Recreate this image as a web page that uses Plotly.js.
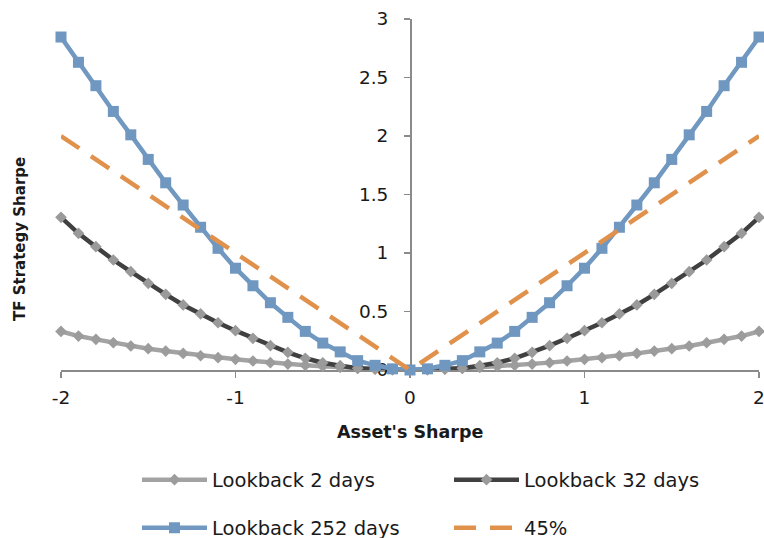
<!DOCTYPE html>
<html>
<head>
<meta charset="utf-8">
<script src="https://cdn.plot.ly/plotly-3.0.1.min.js"></script>
<style>html,body{margin:0;padding:0;background:#fff;}#chart{width:764px;height:538px;}</style>
</head>
<body>
<div id="chart"></div>
<script>
const assetSharpe = [-2.0,-1.9,-1.8,-1.7,-1.6,-1.5,-1.4,-1.3,-1.2,-1.1,-1.0,-0.9,-0.8,-0.7,-0.6,-0.5,-0.4,-0.3,-0.2,-0.1,0.0,0.1,0.2,0.3,0.4,0.5,0.6,0.7,0.8,0.9,1.0,1.1,1.2,1.3,1.4,1.5,1.6,1.7,1.8,1.9,2.0];
const lookback2 = [0.33,0.29,0.262,0.233,0.205,0.182,0.162,0.142,0.122,0.105,0.091,0.077,0.063,0.051,0.040,0.031,0.023,0.014,0.009,0.003,0,0.003,0.009,0.014,0.023,0.031,0.040,0.051,0.063,0.077,0.091,0.105,0.122,0.142,0.162,0.182,0.205,0.233,0.262,0.29,0.33];
const lookback32 = [1.305,1.168,1.054,0.94,0.84,0.741,0.647,0.556,0.479,0.404,0.336,0.271,0.208,0.151,0.10,0.062,0.037,0.015,0.007,0.002,0,0.002,0.007,0.015,0.037,0.062,0.10,0.151,0.208,0.271,0.336,0.404,0.479,0.556,0.647,0.741,0.84,0.94,1.054,1.168,1.305];
const lookback252 = [2.846,2.63,2.43,2.21,2.01,1.80,1.60,1.41,1.22,1.04,0.87,0.72,0.575,0.45,0.33,0.23,0.155,0.08,0.04,0.01,0,0.01,0.04,0.08,0.155,0.23,0.33,0.45,0.575,0.72,0.87,1.04,1.22,1.41,1.60,1.80,2.01,2.21,2.43,2.63,2.846];
const diagX = [-2, 0, 2];
const diagY = [2, 0, 2];
const seriesNames = ['Lookback 2 days','Lookback 32 days','Lookback 252 days','45%'];
const xTicks = [-2,-1,0,1,2];
const yTicks = [0,0.5,1,1.5,2,2.5,3];

const FONT = '"DejaVu Sans", "Open Sans", sans-serif';
const TXT = '#1a1a1a';
const axisCol = '#8a8a8a';

const traces = [
  {x: assetSharpe, y: lookback2, name: seriesNames[0], type:'scatter', mode:'lines+markers',
   line:{color:'#a3a3a3', width:4.5}, marker:{symbol:'diamond', size:9, color:'#9c9c9c'}, cliponaxis:false, legend:'legend'},
  {x: assetSharpe, y: lookback32, name: seriesNames[1], type:'scatter', mode:'lines+markers',
   line:{color:'#404040', width:4.5}, marker:{symbol:'diamond', size:9, color:'#9a9a9a'}, cliponaxis:false, legend:'legend2'},
  {x: assetSharpe, y: lookback252, name: seriesNames[2], type:'scatter', mode:'lines+markers',
   line:{color:'#7098c0', width:4.5}, marker:{symbol:'square', size:11, color:'#6f97c0'}, cliponaxis:false, legend:'legend3'},
  {x: diagX, y: diagY, name: seriesNames[3], type:'scatter', mode:'lines',
   line:{color:'#e0924c', width:4.5, dash:'22px,14px'}, cliponaxis:false, legend:'legend4'}
];

function leg(px, py) {
  return {orientation:'h', xref:'container', yref:'container', x:px/764, y:1-py/538,
    xanchor:'left', yanchor:'middle', itemwidth:65,
    font:{family:FONT, size:19.5, color:TXT}, bgcolor:'rgba(0,0,0,0)'};
}

const layout = {
  width:764, height:538,
  margin:{l:61, r:5, t:19, b:168},
  paper_bgcolor:'#fff', plot_bgcolor:'#fff',
  font:{family:FONT, size:18.5, color:TXT},
  showlegend:true,
  xaxis:{range:[-2,2], tickvals:xTicks, ticktext:xTicks.map(String), showgrid:false, zeroline:false,
    showline:true, linecolor:axisCol, linewidth:1.5, ticks:'outside', ticklen:6, tickcolor:axisCol, tickwidth:1.5,
    ticklabelstandoff:4, ticklabeloverflow:'allow',
    tickfont:{family:FONT, size:18.5, color:TXT}, fixedrange:true, layer:'below traces'},
  yaxis:{range:[0,3], tickvals:yTicks, ticktext:yTicks.map(String), showgrid:false, zeroline:false,
    anchor:'free', position:0.5, side:'left',
    showline:true, linecolor:axisCol, linewidth:1.5, ticks:'outside', ticklen:6, tickcolor:axisCol, tickwidth:1.5,
    ticklabelstandoff:12, ticklabeloverflow:'allow',
    tickfont:{family:FONT, size:18.5, color:TXT}, fixedrange:true, layer:'below traces'},
  annotations:[
    {text:"<b>Asset's Sharpe</b>", xref:'paper', yref:'paper', x:0.5, y:(370-432)/351, showarrow:false,
     xanchor:'center', yanchor:'middle', font:{family:FONT, size:17.5, color:TXT}},
    {text:"<b>TF Strategy Sharpe</b>", xref:'paper', yref:'paper', x:(20-61)/698, y:(370-239)/351, showarrow:false,
     textangle:-90, xanchor:'center', yanchor:'middle', font:{family:FONT, size:15, color:TXT}}
  ],
  legend: leg(137, 480),
  legend2: leg(449, 480),
  legend3: leg(137, 528),
  legend4: leg(449, 528)
};

Plotly.newPlot('chart', traces, layout, {displayModeBar:false, staticPlot:true});
</script>
</body>
</html>
